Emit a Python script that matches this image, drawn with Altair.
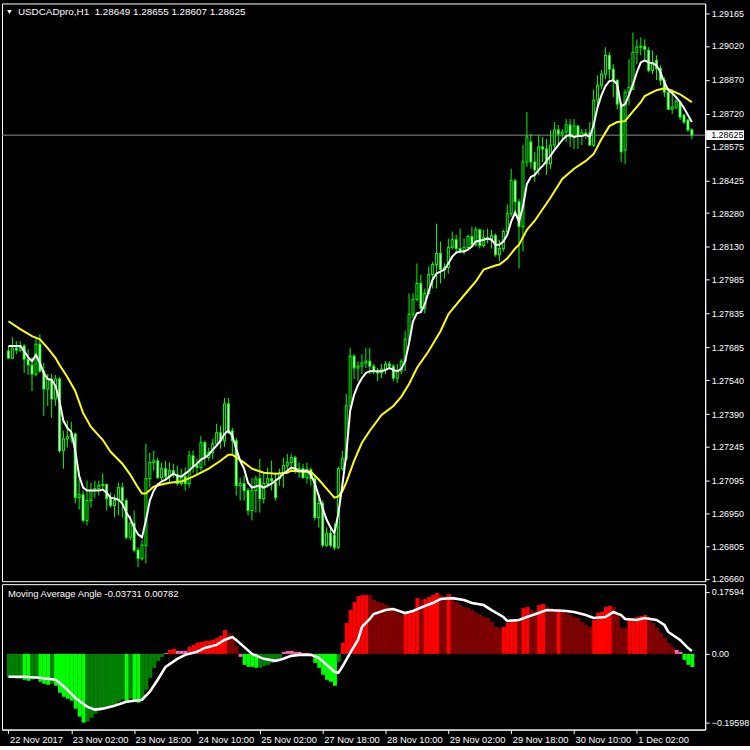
import altair as alt
import pandas as pd

FONT = "Liberation Sans"
SYMBOL = "USDCADpro,H1"

# ---- hourly OHLC, one entry per bar (bar 0 = 22 Nov 10:00) ----
opens = [
    1.27669, 1.27638, 1.27682, 1.27673, 1.27691, 1.27633, 1.27607, 1.27567, 1.27699, 1.27580,
    1.27501, 1.27545, 1.27457, 1.27545, 1.27228, 1.27280, 1.27289, 1.27302, 1.27020, 1.27033,
    1.26919, 1.27007, 1.27051, 1.27060, 1.27073, 1.27078, 1.27016, 1.26985, 1.27007, 1.27064,
    1.27007, 1.26844, 1.26906, 1.26787, 1.26751, 1.26809, 1.27104, 1.27175, 1.27183, 1.27108,
    1.27148, 1.27113, 1.27139, 1.27122, 1.27082, 1.27113, 1.27082, 1.27205, 1.27161, 1.27153,
    1.27263, 1.27197, 1.27219, 1.27258, 1.27307, 1.27272, 1.27435, 1.27316, 1.27272, 1.27073,
    1.27082, 1.27051, 1.26963, 1.27051, 1.27104, 1.27016, 1.27082, 1.27104, 1.27086, 1.27104,
    1.27126, 1.27161, 1.27175, 1.27197, 1.27139, 1.27148, 1.27108, 1.27144, 1.27104, 1.26932,
    1.26994, 1.26809, 1.26862, 1.26853, 1.26800, 1.27148, 1.27192, 1.27426, 1.27646, 1.27594,
    1.27602, 1.27616, 1.27624, 1.27602, 1.27580, 1.27572, 1.27589, 1.27611, 1.27602, 1.27549,
    1.27580, 1.27624, 1.27721, 1.27832, 1.27898, 1.27968, 1.27858, 1.27924, 1.28008, 1.28052,
    1.28101, 1.28030, 1.28039, 1.28127, 1.28162, 1.28123, 1.28114, 1.28127, 1.28176, 1.28140,
    1.28206, 1.28136, 1.28171, 1.28162, 1.28180, 1.28096, 1.28123, 1.28198, 1.28277, 1.28423,
    1.28330, 1.28220, 1.28506, 1.28595, 1.28506, 1.28471, 1.28573, 1.28564, 1.28498, 1.28581,
    1.28648, 1.28630, 1.28639, 1.28670, 1.28617, 1.28665, 1.28621, 1.28634, 1.28634, 1.28581,
    1.28780, 1.28846, 1.28895, 1.28978, 1.28917, 1.28868, 1.28762, 1.28559, 1.28815, 1.28828,
    1.28992, 1.29014, 1.29018, 1.29000, 1.28912, 1.28956, 1.28921, 1.28868, 1.28815, 1.28740,
    1.28749, 1.28771, 1.28714, 1.28692, 1.28649,
]
highs = [
    1.27691, 1.27730, 1.27713, 1.27713, 1.27699, 1.27677, 1.27642, 1.27721, 1.27744, 1.27616,
    1.27567, 1.27567, 1.27563, 1.27554, 1.27316, 1.27360, 1.27355, 1.27307, 1.27104, 1.27051,
    1.27095, 1.27086, 1.27095, 1.27095, 1.27126, 1.27082, 1.27042, 1.27033, 1.27086, 1.27086,
    1.27016, 1.26941, 1.26963, 1.26800, 1.26831, 1.27258, 1.27219, 1.27228, 1.27197, 1.27175,
    1.27183, 1.27175, 1.27170, 1.27161, 1.27148, 1.27153, 1.27228, 1.27228, 1.27192, 1.27294,
    1.27272, 1.27241, 1.27280, 1.27347, 1.27338, 1.27461, 1.27461, 1.27329, 1.27285, 1.27108,
    1.27117, 1.27064, 1.27108, 1.27117, 1.27192, 1.27126, 1.27153, 1.27183, 1.27130, 1.27148,
    1.27197, 1.27214, 1.27214, 1.27205, 1.27175, 1.27170, 1.27175, 1.27153, 1.27117, 1.27020,
    1.27007, 1.26888, 1.26883, 1.26906, 1.27157, 1.27228, 1.27479, 1.27682, 1.27655, 1.27624,
    1.27655, 1.27682, 1.27682, 1.27611, 1.27594, 1.27611, 1.27624, 1.27624, 1.27611, 1.27611,
    1.27633, 1.27757, 1.27924, 1.27924, 1.28057, 1.28008, 1.27946, 1.28043, 1.28065, 1.28233,
    1.28154, 1.28057, 1.28167, 1.28198, 1.28184, 1.28211, 1.28167, 1.28184, 1.28220, 1.28220,
    1.28211, 1.28206, 1.28211, 1.28206, 1.28189, 1.28162, 1.28206, 1.28317, 1.28476, 1.28431,
    1.28343, 1.28581, 1.28727, 1.28630, 1.28551, 1.28626, 1.28617, 1.28608, 1.28648, 1.28683,
    1.28670, 1.28652, 1.28696, 1.28696, 1.28696, 1.28670, 1.28652, 1.28652, 1.28683, 1.28828,
    1.28890, 1.28912, 1.29014, 1.28992, 1.28939, 1.28872, 1.28771, 1.28828, 1.28961, 1.29080,
    1.29049, 1.29058, 1.29049, 1.29014, 1.29000, 1.28978, 1.28934, 1.28881, 1.28824, 1.28828,
    1.28793, 1.28771, 1.28718, 1.28696, 1.28655,
]
lows = [
    1.27633, 1.27633, 1.27655, 1.27664, 1.27572, 1.27563, 1.27492, 1.27558, 1.27572, 1.27382,
    1.27426, 1.27373, 1.27426, 1.27219, 1.27148, 1.27241, 1.27263, 1.26994, 1.26967, 1.26910,
    1.26897, 1.26976, 1.27020, 1.27029, 1.27051, 1.26963, 1.26976, 1.26932, 1.26941, 1.26932,
    1.26835, 1.26831, 1.26778, 1.26712, 1.26742, 1.26729, 1.27064, 1.27139, 1.27104, 1.27095,
    1.27095, 1.27086, 1.27108, 1.27073, 1.27073, 1.27051, 1.27064, 1.27130, 1.27117, 1.27139,
    1.27161, 1.27183, 1.27192, 1.27245, 1.27236, 1.27245, 1.27302, 1.27214, 1.27029, 1.27007,
    1.27007, 1.26941, 1.26919, 1.26954, 1.26954, 1.26994, 1.27064, 1.27051, 1.27007, 1.27073,
    1.27064, 1.27130, 1.27139, 1.27126, 1.27108, 1.27104, 1.27082, 1.27073, 1.26919, 1.26888,
    1.26800, 1.26800, 1.26800, 1.26787, 1.26791, 1.27139, 1.27183, 1.27413, 1.27545, 1.27536,
    1.27567, 1.27594, 1.27567, 1.27567, 1.27536, 1.27549, 1.27567, 1.27594, 1.27536, 1.27527,
    1.27567, 1.27580, 1.27713, 1.27814, 1.27889, 1.27845, 1.27836, 1.27920, 1.27946, 1.27946,
    1.27968, 1.27990, 1.28012, 1.28118, 1.28101, 1.28101, 1.28096, 1.28123, 1.28132, 1.28132,
    1.28123, 1.28127, 1.28145, 1.28123, 1.28087, 1.28065, 1.28110, 1.28184, 1.28264, 1.28286,
    1.28035, 1.28110, 1.28484, 1.28476, 1.28418, 1.28449, 1.28506, 1.28449, 1.28476, 1.28564,
    1.28573, 1.28608, 1.28595, 1.28573, 1.28564, 1.28564, 1.28581, 1.28608, 1.28577, 1.28573,
    1.28740, 1.28828, 1.28872, 1.28872, 1.28793, 1.28740, 1.28506, 1.28498, 1.28758, 1.28824,
    1.28939, 1.28978, 1.28961, 1.28903, 1.28895, 1.28868, 1.28846, 1.28793, 1.28736, 1.28718,
    1.28740, 1.28692, 1.28674, 1.28639, 1.28607,
]
closes = [
    1.27638, 1.27682, 1.27673, 1.27691, 1.27633, 1.27607, 1.27567, 1.27699, 1.27580, 1.27501,
    1.27545, 1.27457, 1.27545, 1.27228, 1.27280, 1.27289, 1.27302, 1.27020, 1.27033, 1.26919,
    1.27007, 1.27051, 1.27060, 1.27073, 1.27078, 1.27016, 1.26985, 1.27007, 1.27064, 1.27007,
    1.26844, 1.26906, 1.26787, 1.26751, 1.26809, 1.27104, 1.27175, 1.27183, 1.27108, 1.27148,
    1.27113, 1.27139, 1.27122, 1.27082, 1.27113, 1.27082, 1.27205, 1.27161, 1.27153, 1.27263,
    1.27197, 1.27219, 1.27258, 1.27307, 1.27272, 1.27435, 1.27316, 1.27272, 1.27073, 1.27082,
    1.27051, 1.26963, 1.27051, 1.27104, 1.27016, 1.27082, 1.27104, 1.27095, 1.27020, 1.27126,
    1.27161, 1.27175, 1.27197, 1.27139, 1.27148, 1.27108, 1.27144, 1.27104, 1.26932, 1.26994,
    1.26809, 1.26862, 1.26809, 1.26800, 1.27148, 1.27192, 1.27426, 1.27646, 1.27594, 1.27602,
    1.27616, 1.27624, 1.27602, 1.27580, 1.27572, 1.27589, 1.27611, 1.27602, 1.27549, 1.27580,
    1.27624, 1.27721, 1.27832, 1.27898, 1.27968, 1.27858, 1.27924, 1.28008, 1.28052, 1.28101,
    1.28030, 1.28039, 1.28127, 1.28162, 1.28123, 1.28114, 1.28127, 1.28176, 1.28140, 1.28206,
    1.28136, 1.28171, 1.28162, 1.28180, 1.28096, 1.28123, 1.28198, 1.28277, 1.28423, 1.28330,
    1.28220, 1.28506, 1.28617, 1.28506, 1.28471, 1.28573, 1.28564, 1.28498, 1.28581, 1.28648,
    1.28630, 1.28639, 1.28670, 1.28617, 1.28665, 1.28621, 1.28634, 1.28630, 1.28581, 1.28780,
    1.28846, 1.28895, 1.28978, 1.28917, 1.28868, 1.28762, 1.28551, 1.28815, 1.28837, 1.28992,
    1.29014, 1.29018, 1.29005, 1.28912, 1.28947, 1.28921, 1.28868, 1.28815, 1.28740, 1.28749,
    1.28775, 1.28705, 1.28683, 1.28648, 1.28625,
]

# ---- fast moving average (white), one value per bar ----
fast_ma = [
    1.27691, 1.27691, 1.27691, 1.27691, 1.27669, 1.27642, 1.27624, 1.27651, 1.27616, 1.27572,
    1.27545, 1.27541, 1.27514, 1.27448, 1.27360, 1.27329, 1.27311, 1.27228, 1.27117, 1.27064,
    1.27051, 1.27051, 1.27051, 1.27051, 1.27056, 1.27042, 1.27020, 1.27016, 1.27011, 1.26994,
    1.26954, 1.26928, 1.26888, 1.26857, 1.26844, 1.26919, 1.27007, 1.27051, 1.27078, 1.27091,
    1.27100, 1.27113, 1.27126, 1.27117, 1.27113, 1.27126, 1.27139, 1.27157, 1.27170, 1.27188,
    1.27197, 1.27210, 1.27232, 1.27250, 1.27272, 1.27302, 1.27316, 1.27294, 1.27236, 1.27183,
    1.27148, 1.27086, 1.27064, 1.27069, 1.27073, 1.27064, 1.27073, 1.27082, 1.27095, 1.27108,
    1.27126, 1.27139, 1.27153, 1.27148, 1.27139, 1.27139, 1.27139, 1.27122, 1.27082, 1.27029,
    1.26972, 1.26923, 1.26888, 1.26862, 1.26950, 1.27073, 1.27210, 1.27404, 1.27475, 1.27519,
    1.27549, 1.27572, 1.27580, 1.27580, 1.27580, 1.27580, 1.27585, 1.27594, 1.27585, 1.27580,
    1.27589, 1.27624, 1.27704, 1.27801, 1.27836, 1.27841, 1.27876, 1.27933, 1.27986, 1.28012,
    1.28021, 1.28030, 1.28057, 1.28087, 1.28105, 1.28110, 1.28110, 1.28118, 1.28132, 1.28154,
    1.28158, 1.28162, 1.28167, 1.28162, 1.28140, 1.28140, 1.28154, 1.28184, 1.28242, 1.28282,
    1.28242, 1.28308, 1.28409, 1.28440, 1.28449, 1.28471, 1.28489, 1.28511, 1.28533, 1.28559,
    1.28581, 1.28603, 1.28621, 1.28626, 1.28617, 1.28621, 1.28621, 1.28626, 1.28617, 1.28670,
    1.28749, 1.28802, 1.28842, 1.28864, 1.28868, 1.28850, 1.28753, 1.28762, 1.28802, 1.28850,
    1.28903, 1.28947, 1.28956, 1.28947, 1.28943, 1.28934, 1.28903, 1.28859, 1.28824, 1.28811,
    1.28793, 1.28771, 1.28745, 1.28714, 1.28683,
]

# ---- slow moving average (yellow), sampled bars ----
slow_ma_bar = [
    0, 3, 6, 8, 10, 12, 13, 15, 17, 19, 21, 24, 26, 29, 31, 33, 34, 35, 37, 39,
    41, 44, 47, 51, 54, 56, 57, 60, 62, 65, 68, 71, 72, 75, 77, 79, 81, 83, 84, 85,
    86, 88, 90, 92, 95, 98, 100, 102, 104, 107, 110, 112, 116, 119, 121, 124, 125, 127, 129, 130,
    132, 134, 138, 141, 144, 147, 149, 151, 153, 155, 157, 158, 161, 162, 165, 167, 168, 171, 174,
]
slow_ma = [
    1.27801, 1.27766, 1.27735, 1.27721, 1.27682, 1.27638, 1.27607, 1.27554, 1.27492, 1.27395,
    1.27333, 1.27276, 1.27223, 1.27170, 1.27122, 1.27064, 1.27038, 1.27038, 1.27069, 1.27078,
    1.27086, 1.27091, 1.27113, 1.27148, 1.27183, 1.27210, 1.27210, 1.27175, 1.27148, 1.27130,
    1.27126, 1.27130, 1.27139, 1.27135, 1.27135, 1.27100, 1.27060, 1.27020, 1.27025, 1.27047,
    1.27086, 1.27183, 1.27263, 1.27316, 1.27386, 1.27426, 1.27466, 1.27523, 1.27594, 1.27669,
    1.27757, 1.27832, 1.27916, 1.27977, 1.28030, 1.28048, 1.28052, 1.28079, 1.28123, 1.28140,
    1.28206, 1.28246, 1.28348, 1.28431, 1.28476, 1.28511, 1.28542, 1.28608, 1.28665, 1.28683,
    1.28687, 1.28709, 1.28771, 1.28798, 1.28824, 1.28833, 1.28828, 1.28806, 1.28771,
]

price_ticks = [1.29165, 1.29020, 1.28870, 1.28720, 1.28575, 1.28425, 1.28280, 1.28130, 1.27985,
               1.27835, 1.27685, 1.27540, 1.27390, 1.27245, 1.27095, 1.26950, 1.26805, 1.26660]

# ---- Moving Average Angle indicator ----
angle = [
    -0.0679, -0.0679, -0.0707, -0.0707, -0.0736, -0.0764, -0.0736, -0.0707, -0.0792, -0.0849,
    -0.0877, -0.0849, -0.0905, -0.1103, -0.1216, -0.1273, -0.1330, -0.1556, -0.1782, -0.1952,
    -0.1924, -0.1811, -0.1697, -0.1613, -0.1556, -0.1528, -0.1471, -0.1443, -0.1358, -0.1301,
    -0.1330, -0.1273, -0.1358, -0.1386, -0.1301, -0.1018, -0.0679, -0.0396, -0.0198, -0.0085,
    0.0028, 0.0113, 0.0141, 0.0085, 0.0085, 0.0085, 0.0198, 0.0255, 0.0311, 0.0339,
    0.0368, 0.0368, 0.0396, 0.0453, 0.0509, 0.0679, 0.0594, 0.0481, 0.0226, -0.0085,
    -0.0311, -0.0368, -0.0368, -0.0396, -0.0396, -0.0339, -0.0311, -0.0255, -0.0198, -0.0113,
    0.0057, 0.0085, 0.0085, 0.0057, 0.0057, 0.0028, 0.0028, -0.0057, -0.0255, -0.0396,
    -0.0594, -0.0736, -0.0792, -0.0905, -0.0226, 0.0311, 0.0877, 0.1245, 0.1471, 0.1641,
    0.1669, 0.1669, 0.1669, 0.1528, 0.1471, 0.1443, 0.1386, 0.1330, 0.1245, 0.1160,
    0.1103, 0.1132, 0.1160, 0.1188, 0.1584, 0.1528, 0.1556, 0.1613, 0.1669, 0.1726,
    0.1669, 0.1641, 0.1697, 0.1584, 0.1471, 0.1386, 0.1330, 0.1301, 0.1245, 0.1160,
    0.1103, 0.1047, 0.1018, 0.0905, 0.0764, 0.0736, 0.0764, 0.0877, 0.0905, 0.0962,
    0.0934, 0.1301, 0.1330, 0.1245, 0.1216, 0.1386, 0.1415, 0.1330, 0.1301, 0.1245,
    0.1273, 0.1188, 0.1160, 0.1103, 0.1047, 0.1018, 0.0905, 0.0820, 0.0764, 0.0962,
    0.1160, 0.1188, 0.1330, 0.1358, 0.1330, 0.1160, 0.0736, 0.0736, 0.0990, 0.1018,
    0.1047, 0.1075, 0.1103, 0.0962, 0.0877, 0.0736, 0.0594, 0.0453, 0.0311, 0.0198,
    0.0113, 0.0057, -0.0170, -0.0311, -0.03731,
]
# histogram state per bar: L falling below zero, G rising below zero,
# R rising above zero, M falling above zero, P flat
angle_state = list(
    "GGGG" "LL" "GG" "LLL" "G" "LLLLLLLL" "GGGGGGGGGG" "L" "G" "LL" "GGGGGG"
    "P" "RR" "PPP" "RRRRRRRRRR" "MMM" "P" "LLLL" "GGGGGG" "PPPPPPPP" "LLLLLL" "G"
    "RRRRRRR" "MMMMMMMMM" "RRRR" "M" "RRRR" "MM" "R" "MMMMMMMMMMMMM" "RRRR" "M"
    "RR" "MM" "RR" "MMM" "R" "MMMMMMMM" "RRRRR" "MMMM" "RRRRR" "MMMMMMM" "PP" "LLL"
)
state_colors = {"L": "#00ff00", "G": "#008000", "R": "#ff0000", "M": "#800000", "P": "#ff69b4"}

signal_bar = [
    0, 4, 8, 12, 13, 15, 17, 20, 22, 24, 27, 30, 32, 34, 36, 38, 40, 43, 45, 48,
    50, 53, 55, 57, 58, 60, 62, 65, 68, 70, 72, 74, 77, 79, 81, 83, 84, 85, 87, 89,
    90, 92, 93, 96, 98, 101, 103, 106, 108, 110, 113, 116, 118, 121, 123, 126, 127, 130, 132, 135,
    137, 142, 144, 147, 149, 152, 154, 156, 157, 160, 162, 165, 167, 168, 171, 173, 174,
]
signal = [
    -0.0651, -0.0651, -0.0679, -0.0736, -0.0820, -0.1018, -0.1245, -0.1499, -0.1584, -0.1556,
    -0.1471, -0.1358, -0.1330, -0.1301, -0.1075, -0.0736, -0.0368, -0.0141, -0.0028, 0.0057,
    0.0170, 0.0255, 0.0396, 0.0481, 0.0396, 0.0198, 0.0000, -0.0141, -0.0198, -0.0141,
    -0.0057, -0.0028, -0.0028, -0.0113, -0.0311, -0.0509, -0.0537, -0.0368, 0.0028, 0.0396,
    0.0764, 0.0990, 0.1132, 0.1245, 0.1273, 0.1160, 0.1216, 0.1358, 0.1443, 0.1556,
    0.1584, 0.1528, 0.1443, 0.1386, 0.1245, 0.1047, 0.0934, 0.0962, 0.1047, 0.1160,
    0.1245, 0.1216, 0.1188, 0.1103, 0.1018, 0.1047, 0.1188, 0.1103, 0.0990, 0.0962,
    0.1018, 0.0962, 0.0820, 0.0622, 0.0396, 0.0170, 0.00782,
]
angle_ticks = [0.17594, 0.0, -0.19598]

time_ticks = [0, 16, 32, 48, 64, 80, 96, 112, 128, 144, 160]
time_labels = ["22 Nov 2017", "23 Nov 02:00", "23 Nov 18:00", "24 Nov 10:00", "25 Nov 02:00",
               "27 Nov 18:00", "28 Nov 10:00", "29 Nov 02:00", "29 Nov 18:00", "30 Nov 10:00",
               "1 Dec 02:00"]

# ---- tables ----
n = len(closes)
candles = pd.DataFrame({"bar": range(n), "open": opens, "high": highs, "low": lows, "close": closes})
candles["body_top"] = candles[["open", "close"]].max(axis=1)
candles["body_bot"] = candles[["open", "close"]].min(axis=1)
# bullish bodies are hollow (black), bearish bodies are white
candles["fill"] = ["#000000" if c > o else "#ffffff" for o, c in zip(opens, closes)]

fast_df = pd.DataFrame({"bar": range(n), "ma": fast_ma})
slow_df = pd.DataFrame({"bar": slow_ma_bar, "ma": slow_ma})
last_df = pd.DataFrame({"price": [closes[-1]], "label": [f"{closes[-1]:.5f}"]})
head_df = pd.DataFrame({"t": [f"{SYMBOL}\u00a0 {opens[-1]:.5f} {highs[-1]:.5f} {lows[-1]:.5f} {closes[-1]:.5f}"]})

angle_df = pd.DataFrame({"bar": range(n), "v": angle, "zero": 0.0,
                         "fill": [state_colors[s] for s in angle_state]})
signal_df = pd.DataFrame({"bar": signal_bar, "v": signal})
ind_head = pd.DataFrame({"t": [f"Moving Average Angle {angle[-1]:.5f} {signal[-1]:.5f}"]})

# ---- scales and axes ----
W = 706
x_scale = alt.Scale(domain=[-0.375, 176.125], nice=False, zero=False)
p_scale = alt.Scale(domain=[1.26650, 1.29208], nice=False, zero=False)
a_scale = alt.Scale(domain=[-0.2150, 0.1980], nice=False, zero=False)

p_axis = alt.Axis(orient="right", values=price_ticks, format=".5f", title=None, grid=False,
                  tickSize=4, labelPadding=2, labelFlush=False, labelOverlap=False,
                  labelFontSize=9)
a_axis = alt.Axis(orient="right", values=angle_ticks, title=None, grid=False,
                  tickSize=4, labelPadding=2, labelFlush=False, labelOverlap=False,
                  labelFontSize=9,
                  labelExpr="datum.value == 0 ? '0.00' : format(datum.value, '.5f')")
labels_js = "[" + ",".join(f"'{s}'" for s in time_labels) + "]"
t_axis = alt.Axis(orient="bottom", values=time_ticks, title=None, grid=False,
                  tickSize=4, labelPadding=2, labelAlign="left", labelOffset=1,
                  labelBaseline="top", labelFlush=False, labelOverlap=False,
                  labelFontSize=9.4,
                  labelExpr=f"{labels_js}[indexof({time_ticks}, datum.value)]")

def xp():
    return alt.X("bar:Q", scale=x_scale, axis=None)

def yp(field):
    return alt.Y(f"{field}:Q", scale=p_scale, axis=p_axis)

LIME = "#00ff00"

last_line = alt.Chart(last_df).mark_rule(color="#8c8c8c", strokeWidth=1).encode(y=yp("price"))

wicks = alt.Chart(candles).mark_rule(color=LIME, strokeWidth=1).encode(
    x=xp(), y=yp("low"), y2="high")

body_outer = alt.Chart(candles).mark_bar(width=3, color=LIME, yOffset=-0.5, y2Offset=0.5).encode(
    x=xp(), y=yp("body_top"), y2="body_bot")

body_inner = alt.Chart(candles).transform_filter(
    "datum.body_top - datum.body_bot > 0.00005"
).mark_bar(width=1, yOffset=0.5, y2Offset=-0.5).encode(
    x=xp(), y=yp("body_top"), y2="body_bot",
    color=alt.Color("fill:N", scale=None))

slow_line = alt.Chart(slow_df).mark_line(color="#ffff00", strokeWidth=2).encode(x=xp(), y=yp("ma"))
fast_line = alt.Chart(fast_df).mark_line(color="#ffffff", strokeWidth=2).encode(x=xp(), y=yp("ma"))

head_text = alt.Chart(head_df).mark_text(
    align="left", baseline="middle", color="#ffffff", font=FONT, fontSize=9.9
).encode(x=alt.value(16), y=alt.value(8.5), text="t:N")

head_tri = alt.Chart(head_df).mark_point(
    shape="triangle-down", filled=True, size=22, color="#ffffff", opacity=1
).encode(x=alt.value(7.5), y=alt.value(8.5))

price_box = alt.Chart(last_df).mark_rect(color="#ffffff", yOffset=-5, y2Offset=5).encode(
    x=alt.value(707), x2=alt.value(745), y=yp("price"), y2="price")
price_text = alt.Chart(last_df).mark_text(
    align="left", baseline="middle", color="#000000", font=FONT, fontSize=9
).encode(x=alt.value(712), y=yp("price"), text="label:N")

top = alt.layer(
    last_line, wicks, body_outer, body_inner, slow_line, fast_line,
    head_text, head_tri, price_box, price_text
).properties(width=W, height=580)

# ---- indicator panel ----
def xa():
    return alt.X("bar:Q", scale=x_scale, axis=t_axis)

def ya(field):
    return alt.Y(f"{field}:Q", scale=a_scale, axis=a_axis)

hist = alt.Chart(angle_df).mark_bar(width=4, xOffset=0.5).encode(
    x=xa(), y=ya("v"), y2="zero",
    color=alt.Color("fill:N", scale=None))

sig_line = alt.Chart(signal_df).mark_line(color="#ffffff", strokeWidth=2.6).encode(x=xa(), y=ya("v"))

ind_text = alt.Chart(ind_head).mark_text(
    align="left", baseline="middle", color="#ffffff", font=FONT, fontSize=9.5
).encode(x=alt.value(6), y=alt.value(9.5), text="t:N")

bottom = alt.layer(hist, sig_line, ind_text).properties(width=W, height=146)

chart = alt.vconcat(top, bottom, spacing=3, bounds="flush").properties(
    padding={"left": 1, "top": 1, "right": 0, "bottom": 0},
    background="#000000",
).configure_view(
    stroke="#ffffff", strokeWidth=1, fill="#000000"
).configure_axis(
    domainColor="#ffffff", tickColor="#ffffff", labelColor="#ffffff",
    labelFont=FONT, domainWidth=1, tickWidth=1,
)

chart.save("out.html", embed_options={"renderer": "svg", "actions": False})
